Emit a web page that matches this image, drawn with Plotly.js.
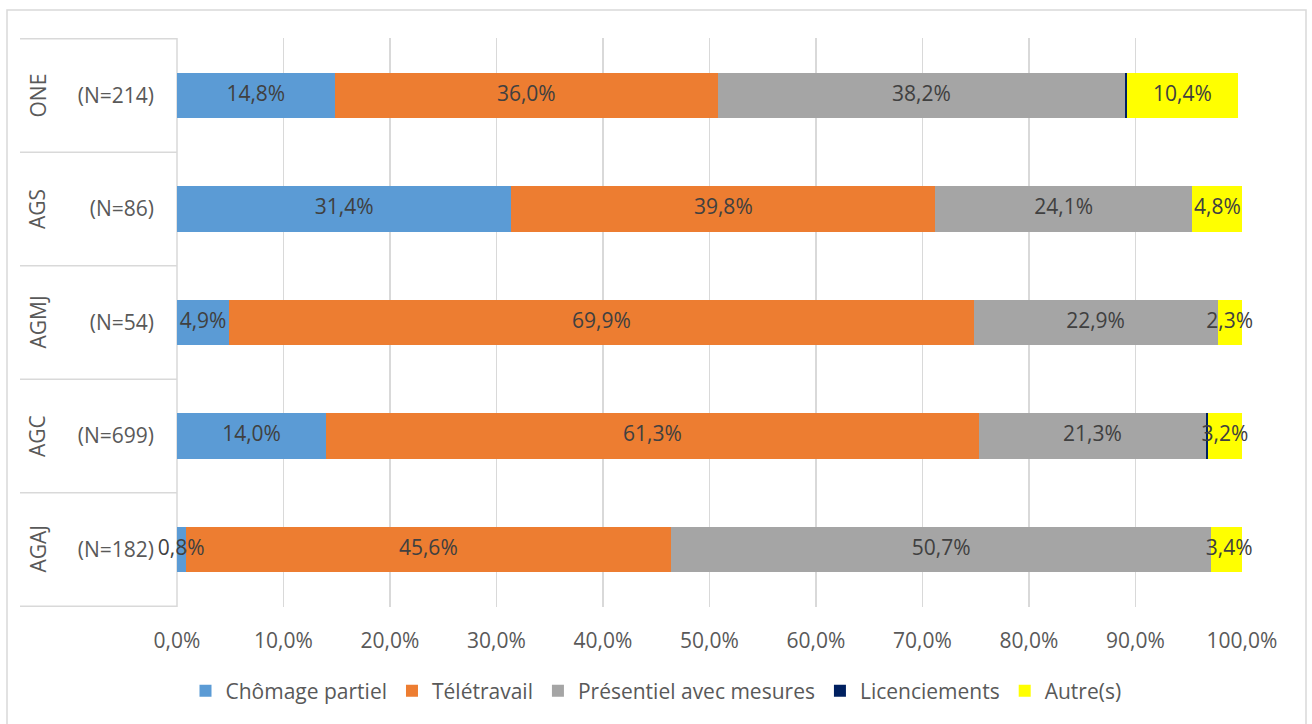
<!DOCTYPE html>
<html>
<head>
<meta charset="utf-8">
<script src="https://cdn.plot.ly/plotly-3.0.1.min.js"></script>
<style>html,body{margin:0;padding:0;background:#fff;}#chart{width:1312px;height:724px;}</style>
</head>
<body>
<div id="chart"></div>
<script>
// Categories, bottom to top
var groups = ['AGAJ', 'AGC', 'AGMJ', 'AGS', 'ONE'];
var nLabels = ['(N=182)', '(N=699)', '(N=54)', '(N=86)', '(N=214)'];

// Series values (%)
var chomagePartiel = [0.8, 14.0, 4.9, 31.4, 14.8];
var teletravail = [45.6, 61.3, 69.9, 39.8, 36.0];
var presentiel = [50.7, 21.3, 22.9, 24.1, 38.2];
var licenciements = [0, 0.2, 0, 0, 0.2];
var autres = [3.4, 3.2, 2.3, 4.8, 10.4];

var xTicks = [0, 10, 20, 30, 40, 50, 60, 70, 80, 90, 100];

function fmt(v) { return v.toFixed(1).replace('.', ',') + '%'; }

var FONT = 'Open Sans, sans-serif';
var labelFont = {family: FONT, size: 21, color: '#404040'};

var series = [
  {name: 'Chômage partiel', vals: chomagePartiel, color: '#5B9BD5', label: true},
  {name: 'Télétravail', vals: teletravail, color: '#ED7D31', label: true},
  {name: 'Présentiel avec mesures', vals: presentiel, color: '#A5A5A5', label: true},
  {name: 'Licenciements', vals: licenciements, color: '#002060', label: false},
  {name: 'Autre(s)', vals: autres, color: '#FFFF00', label: true}
];

var data = [];
series.forEach(function (s) {
  data.push({
    type: 'bar', orientation: 'h', name: s.name,
    x: s.vals, y: groups,
    marker: {color: s.color, line: {width: 0}},
    hoverinfo: 'x+name'
  });
});

// data labels centred on each segment (positions derived from the values)
var cum = groups.map(function () { return 0; });
var lx = [], ly = [], lt = [];
series.forEach(function (s) {
  s.vals.forEach(function (v, i) {
    if (s.label && v > 0) {
      lx.push(cum[i] + v / 2); ly.push(groups[i]); lt.push(fmt(v));
    }
    cum[i] += v;
  });
});
data.push({
  type: 'scatter', mode: 'text', x: lx, y: ly, text: lt,
  textposition: 'middle center', textfont: labelFont,
  cliponaxis: false, showlegend: false, hoverinfo: 'skip'
});

var L = 177, R = 1242, T = 38, B = 607;
var W = R - L, H = B - T;
function px(xp) { return (xp - L) / W; }
function py(yp) { return (B - yp) / H; }

var shapes = [];
shapes.push({type: 'rect', xref: 'paper', yref: 'paper', x0: px(7), x1: px(1306), y0: py(10), y1: py(740),
  line: {color: '#D9D9D9', width: 1.5}, fillcolor: 'rgba(0,0,0,0)', layer: 'below'});
for (var i = 0; i <= groups.length; i++) {
  shapes.push({type: 'line', xref: 'paper', yref: 'y', x0: px(20), x1: 0, y0: i - 0.5, y1: i - 0.5,
    line: {color: '#D9D9D9', width: 1.5}, layer: 'below'});
}
shapes.push({type: 'line', xref: 'paper', yref: 'paper', x0: 0, x1: 0, y0: 0, y1: 1,
  line: {color: '#D9D9D9', width: 1.5}, layer: 'below'});

var annotations = groups.map(function (g) {
  return {xref: 'paper', yref: 'y', x: px(37), y: g, text: g, showarrow: false, textangle: -90,
    xanchor: 'center', yanchor: 'middle',
    font: {family: FONT, size: 21, color: '#595959'}};
});

var layout = {
  width: 1312, height: 724,
  margin: {l: L, r: 1312 - R, t: T, b: 724 - B, pad: 0},
  paper_bgcolor: '#FFFFFF', plot_bgcolor: '#FFFFFF',
  barmode: 'stack', bargap: 0.6,
  font: {family: FONT, size: 21, color: '#595959'},
  xaxis: {
    range: [0, 100], tickvals: xTicks, ticktext: xTicks.map(fmt),
    showgrid: true, gridcolor: '#D9D9D9', gridwidth: 1.5,
    zeroline: false, showline: false, ticks: '', ticklabelstandoff: 19,
    tickfont: {family: FONT, size: 21, color: '#595959'},
    fixedrange: true
  },
  yaxis: {
    type: 'category', categoryorder: 'array', categoryarray: groups,
    tickvals: groups, ticktext: nLabels,
    showgrid: false, zeroline: false, showline: false, ticks: '', ticklabelstandoff: 22,
    tickfont: {family: FONT, size: 21, color: '#595959'},
    fixedrange: true
  },
  legend: {
    orientation: 'h', xref: 'container', x: 0.5, xanchor: 'center',
    yref: 'container', y: (724 - 691) / 724, yanchor: 'middle',
    font: {family: FONT, size: 21, color: '#595959'},
    traceorder: 'normal', itemclick: false, itemdoubleclick: false,
    itemwidth: 30
  },
  shapes: shapes,
  annotations: annotations,
  showlegend: true
};

Plotly.newPlot('chart', data, layout, {displayModeBar: false, staticPlot: true});
</script>
</body>
</html>
